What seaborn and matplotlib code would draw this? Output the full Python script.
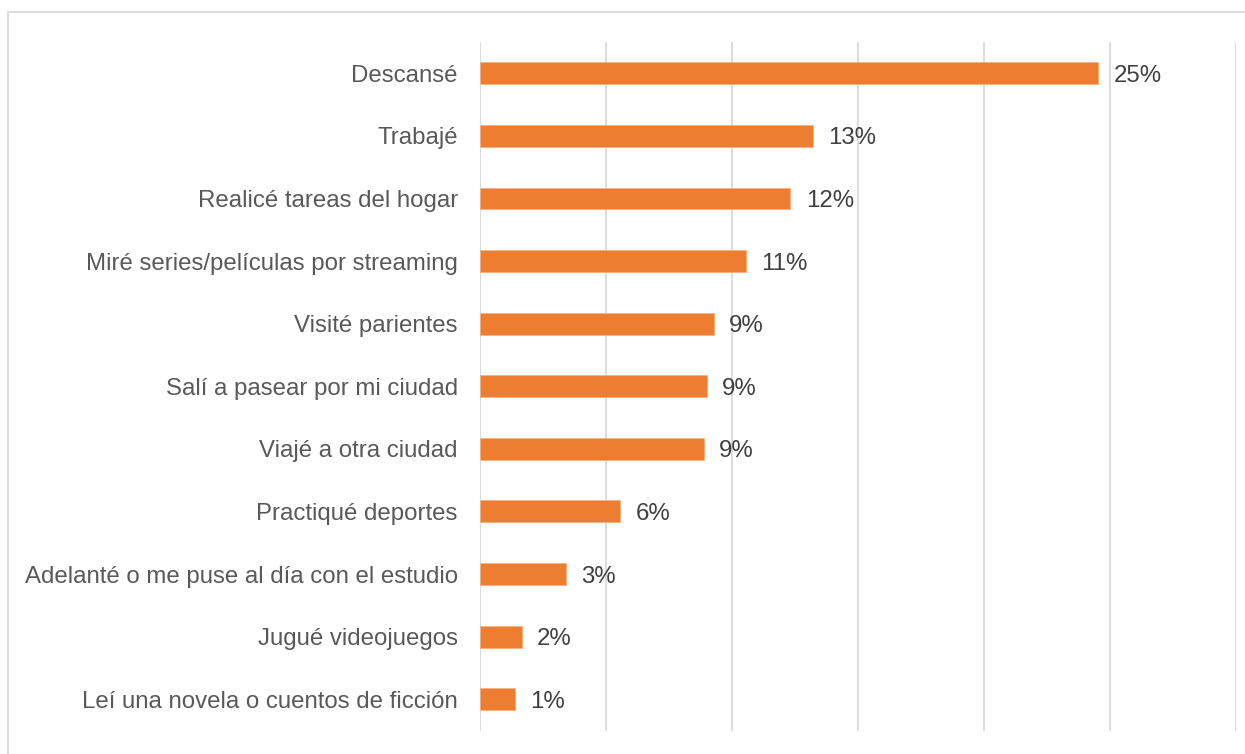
import matplotlib
matplotlib.use("Agg")
import matplotlib.pyplot as plt
import seaborn as sns
import pandas as pd
from matplotlib.patches import Rectangle

categories = [
    "Descansé",
    "Trabajé",
    "Realicé tareas del hogar",
    "Miré series/películas por streaming",
    "Visité parientes",
    "Salí a pasear por mi ciudad",
    "Viajé a otra ciudad",
    "Practiqué deportes",
    "Adelanté o me puse al día con el estudio",
    "Jugué videojuegos",
    "Leí una novela o cuentos de ficción",
]
values = [24.53, 13.2, 12.32, 10.54, 9.27, 9.01, 8.88, 5.56, 3.41, 1.65, 1.38]
value_labels = ["25%", "13%", "12%", "11%", "9%", "9%", "9%", "6%", "3%", "2%", "1%"]

df = pd.DataFrame({"cat": categories, "val": values})

sns.set_theme(style="white")
plt.rcParams["font.family"] = ["Liberation Sans", "DejaVu Sans"]

W, H = 1245, 754
fig = plt.figure(figsize=(W / 100, H / 100), dpi=100)
ax = fig.add_axes([480 / W, 1 - 730.5 / H, (1236 - 480) / W, (730.5 - 42) / H])

sns.barplot(data=df, y="cat", x="val", orient="h", color="#ED7D31",
            width=0.35, saturation=1, ax=ax, edgecolor="#F4B183", linewidth=0.6)

ax.set_xlim(0, 30)
ax.set_ylim(len(categories) - 0.5, -0.5)
ax.set_xticks([0, 5, 10, 15, 20, 25, 30])
ax.xaxis.grid(True, color="#D9D9D9", linewidth=1.3)
ax.set_axisbelow(True)
for s in ax.spines.values():
    s.set_visible(False)
ax.tick_params(axis="x", bottom=False, labelbottom=False)
ax.tick_params(axis="y", left=False, pad=10, labelsize=17.3, labelcolor="#595959")
ax.set_xlabel("")
ax.set_ylabel("")

for i, (v, lab) in enumerate(zip(values, value_labels)):
    ax.annotate(lab, (v, i), xytext=(11, 0), textcoords="offset points",
                fontsize=17.3, color="#404040", va="center_baseline", ha="left")

fig.add_artist(Rectangle((7.5 / W, -0.1), 1.2, 1 - 12.5 / H + 0.1,
                         transform=fig.transFigure, fill=False,
                         edgecolor="#D9D9D9", linewidth=1.3))

fig.savefig("out.png", dpi=100, facecolor="white")
